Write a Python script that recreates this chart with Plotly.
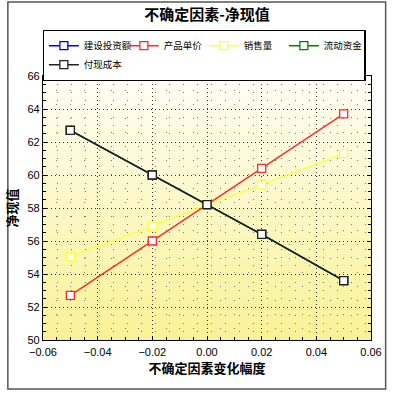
import plotly.graph_objects as go

x_vals = [-0.05, -0.02, 0.0, 0.02, 0.05]
series_names = ["建设投资额", "产品单价", "销售量", "流动资金", "付现成本"]
jianshe = [62.7, 60.0, 58.2, 56.4, 53.6]
chanpin = [52.7, 56.0, 58.2, 60.4, 63.7]
xiaoshou = [55.05, 56.9, 58.2, 59.4, 61.3]
liudong = [62.7, 60.0, 58.2, 56.4, 53.6]
fuxian = [62.7, 60.0, 58.2, 56.4, 53.6]
series_vals = [jianshe, chanpin, xiaoshou, liudong, fuxian]
colors = ["#0000ff", "#ff2a2a", "#ffff3a", "#008000", "#202020"]

L, R, T, B = 38, 20, 76, 54
W = H = 394

fig = go.Figure()
for name, vals, c in zip(series_names, series_vals, colors):
    fig.add_trace(go.Scatter(
        x=x_vals, y=vals, name=name, mode="lines+markers",
        line=dict(color=c, width=1.4),
        marker=dict(symbol="square", size=8, color="white", line=dict(color=c, width=1.3)),
    ))

# gradient background for plot area
shapes = []
n = 40
top = (255, 255, 246)
bot = (250, 242, 150)
for i in range(n):
    t = (i + 0.5) / n
    r = int(top[0] + (bot[0] - top[0]) * t)
    g = int(top[1] + (bot[1] - top[1]) * t)
    b = int(top[2] + (bot[2] - top[2]) * t)
    shapes.append(dict(type="rect", xref="x domain", yref="y domain",
                       x0=0, x1=1, y0=1 - (i + 1) / n, y1=1 - i / n + 0.002,
                       fillcolor=f"rgb({r},{g},{b})", line=dict(width=0), layer="below"))
# outer frame
shapes.append(dict(type="rect", xref="paper", yref="paper",
                   x0=(2 - L) / (W - L - R), x1=(389 - L) / (W - L - R),
                   y0=(H - B - 389) / (H - T - B), y1=(H - B - 2) / (H - T - B),
                   line=dict(color="#555555", width=1.5), fillcolor="rgba(0,0,0,0)"))

axis_common = dict(
    showline=True, linecolor="black", linewidth=1.2, mirror="allticks",
    ticks="inside", ticklen=4, tickcolor="black",
    tickfont=dict(family="Liberation Sans Narrow, Arial Narrow, sans-serif", size=11, color="black"),
    showgrid=True, gridcolor="#333333", gridwidth=1, griddash="1px,3px",
    zeroline=False,
)

fig.update_layout(
    width=W, height=H,
    margin=dict(l=L, r=R, t=T, b=B),
    paper_bgcolor="white", plot_bgcolor="rgba(0,0,0,0)",
    title=dict(text="<b>不确定因素-净现值</b>", x=0.5, xref="paper", y=1 - 15 / H, yanchor="middle",
               font=dict(family="Noto Sans CJK SC", size=15, color="black")),
    shapes=shapes,
    legend=dict(orientation="h", x=-0.001, xanchor="left", y=(H - B - 30) / (H - T - B), yanchor="top",
                bgcolor="white", bordercolor="black", borderwidth=1.2,
                entrywidth=35, entrywidthmode="pixels", itemwidth=30,
                font=dict(family="Noto Sans CJK SC", size=9.5, color="black"),
                tracegroupgap=0),
    xaxis=dict(axis_common, range=[-0.06, 0.06], dtick=0.02, tickformat=".2f", ticklabelstandoff=2,
               minor=dict(dtick=0.005, ticks="inside", ticklen=3, tickcolor="black",
                          showgrid=True, gridcolor="#777777", griddash="1px,13px", gridwidth=1),
               title=dict(text="<b>不确定因素变化幅度</b>", standoff=5,
                          font=dict(family="Noto Sans CJK SC", size=13, color="black"))),
    yaxis=dict(axis_common, range=[50, 66], dtick=2,
               minor=dict(dtick=0.5, ticks="inside", ticklen=3, tickcolor="black",
                          showgrid=True, gridcolor="#777777", griddash="1px,13px", gridwidth=1),
               title=dict(text="<b>净现值</b>", standoff=6,
                          font=dict(family="Noto Sans CJK SC", size=13, color="black"))),
)

fig.write_html("out.html")
